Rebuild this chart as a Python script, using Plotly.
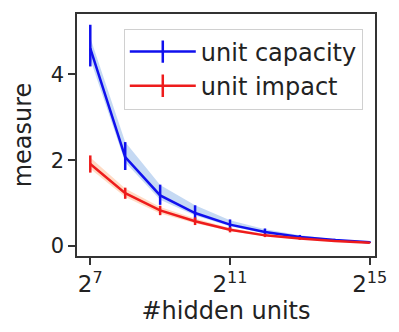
import plotly.graph_objects as go

hidden_units = [2**k for k in range(7, 16)]

cap_mean = [4.6, 2.07, 1.18, 0.77, 0.5, 0.33, 0.21, 0.14, 0.09]
cap_err_plus = [0.55, 0.35, 0.25, 0.18, 0.12, 0.08, 0.05, 0.03, 0.02]
cap_err_minus = [0.42, 0.3, 0.22, 0.16, 0.11, 0.07, 0.05, 0.03, 0.02]
cap_band_hi = [4.85, 2.42, 1.42, 0.95, 0.6, 0.39, 0.25, 0.16, 0.1]
cap_band_lo = [4.35, 1.95, 1.08, 0.71, 0.46, 0.3, 0.19, 0.13, 0.08]

imp_mean = [1.91, 1.23, 0.83, 0.58, 0.38, 0.25, 0.18, 0.12, 0.08]
imp_err = [0.2, 0.13, 0.11, 0.09, 0.06, 0.04, 0.03, 0.02, 0.01]
imp_band_hi = [2.06, 1.34, 0.91, 0.64, 0.42, 0.28, 0.2, 0.13, 0.09]
imp_band_lo = [1.8, 1.14, 0.76, 0.53, 0.35, 0.23, 0.16, 0.11, 0.07]

xtick_vals = [2**7, 2**11, 2**15]
xtick_text = ["2<sup>7</sup>", "2<sup>11</sup>", "2<sup>15</sup>"]
ytick_vals = [0, 2, 4]

BLUE = "#1010ee"
RED = "#ee1c1c"
FONT = "DejaVu Sans"

fig = go.Figure()

def band(x, lo, hi, color):
    fig.add_trace(go.Scatter(x=x, y=hi, mode="lines", line=dict(width=0),
                             showlegend=False, hoverinfo="skip"))
    fig.add_trace(go.Scatter(x=x, y=lo, mode="lines", line=dict(width=0),
                             fill="tonexty", fillcolor=color,
                             showlegend=False, hoverinfo="skip"))

band(hidden_units, cap_band_lo, cap_band_hi, "rgba(110,160,225,0.40)")
band(hidden_units, imp_band_lo, imp_band_hi, "rgba(255,165,110,0.40)")

fig.add_trace(go.Scatter(
    x=hidden_units, y=cap_mean, mode="lines",
    line=dict(color=BLUE, width=2.5), showlegend=False,
    error_y=dict(type="data", array=cap_err_plus, arrayminus=cap_err_minus,
                 symmetric=False, color=BLUE, thickness=2.5, width=0)))
fig.add_trace(go.Scatter(
    x=hidden_units, y=imp_mean, mode="lines",
    line=dict(color=RED, width=2.5), showlegend=False,
    error_y=dict(type="data", array=imp_err, color=RED, thickness=2.5, width=0)))

# legend entries (line with vertical error tick)
for name, col in [("unit capacity", BLUE), ("unit impact", RED)]:
    fig.add_trace(go.Scatter(
        x=[None], y=[None], mode="lines+markers", name=name,
        line=dict(color=col, width=2.5),
        marker=dict(symbol="line-ns", size=18, line=dict(color=col, width=2.5))))

fig.update_layout(
    width=399, height=332,
    margin=dict(l=77, r=16, t=12, b=76),
    paper_bgcolor="white", plot_bgcolor="white",
    font=dict(family=FONT, color="#222222", size=20),
    legend=dict(x=0.157, y=0.94, xanchor="left", yanchor="top",
                traceorder="normal", itemwidth=66,
                bgcolor="rgba(255,255,255,0.85)", bordercolor="#d0d0d0",
                borderwidth=1, font=dict(size=24, family=FONT)),
)

fig.update_xaxes(
    type="log", range=[6.62 * 0.30103, 15.15 * 0.30103],
    tickvals=xtick_vals, ticktext=xtick_text,
    tickfont=dict(size=23), ticks="outside", ticklen=7, tickwidth=1.5,
    tickcolor="#333333", showline=True, linecolor="#333333", linewidth=1.5,
    mirror=True, showgrid=False, zeroline=False,
    title=dict(text="#hidden units", font=dict(size=24), standoff=4),
)
fig.update_yaxes(
    range=[-0.23, 5.4], tickvals=ytick_vals,
    tickfont=dict(size=21), ticks="outside", ticklen=7, tickwidth=1.5,
    tickcolor="#333333", showline=True, linecolor="#333333", linewidth=1.5,
    mirror=True, showgrid=False, zeroline=False,
    title=dict(text="measure", font=dict(size=24), standoff=12),
)

fig.write_html("out.html")
